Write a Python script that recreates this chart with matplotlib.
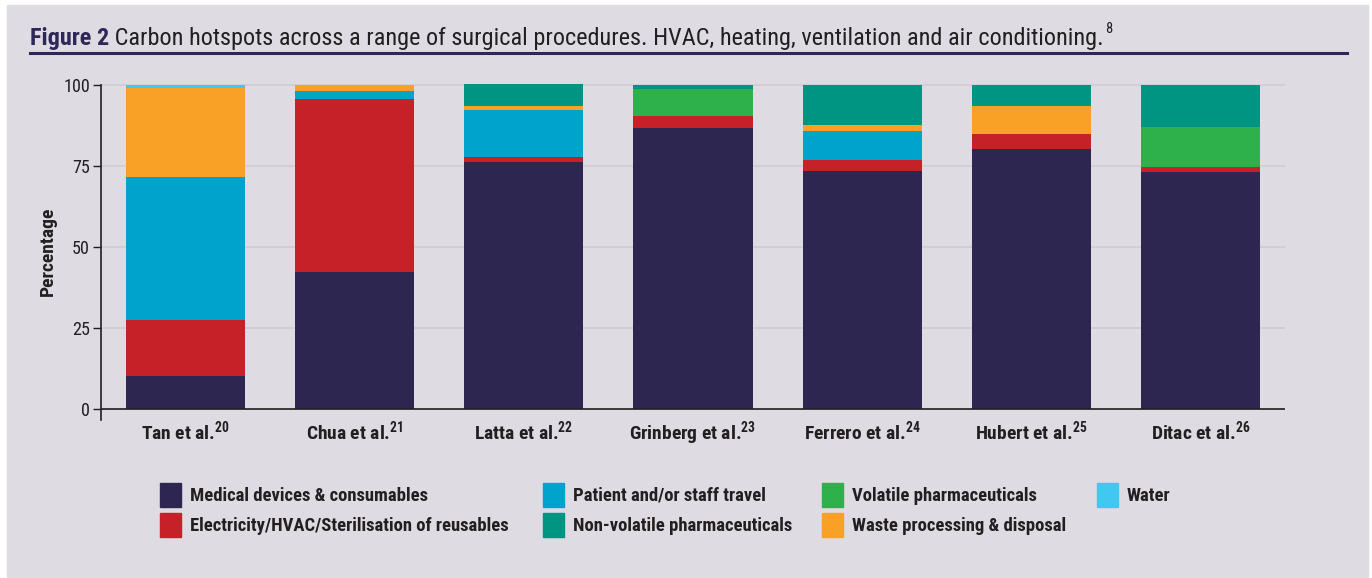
import matplotlib
matplotlib.use("Agg")
import matplotlib.pyplot as plt
from matplotlib import font_manager
import numpy as np
from matplotlib.patches import Rectangle
from matplotlib.lines import Line2D


def pick_font():
    entries = font_manager.fontManager.ttflist
    names = {f.name for f in entries}
    for want in ["Liberation Sans Narrow", "Roboto Condensed", "Open Sans Condensed",
                 "Noto Sans Condensed", "DejaVu Sans Condensed"]:
        if want in names:
            return want, "normal"
    for f in entries:
        if f.name == "DejaVu Sans" and f.stretch in ("condensed", "semi-condensed", 600, 700):
            return "DejaVu Sans", f.stretch
    for want in ["Roboto", "Liberation Sans", "Inter"]:
        if want in names:
            return want, "normal"
    return "DejaVu Sans", "normal"


FONT, STRETCH = pick_font()
plt.rcParams['font.family'] = [FONT, 'DejaVu Sans']
plt.rcParams['font.stretch'] = STRETCH
plt.rcParams['mathtext.fontset'] = 'custom'
plt.rcParams['mathtext.rm'] = FONT
plt.rcParams['mathtext.bf'] = FONT + ':bold'
plt.rcParams['mathtext.default'] = 'bf'

studies = ["Tan et al.$^{20}$", "Chua et al.$^{21}$", "Latta et al.$^{22}$",
           "Grinberg et al.$^{23}$", "Ferrero et al.$^{24}$", "Hubert et al.$^{25}$",
           "Ditac et al.$^{26}$"]

# stacked from bottom to top
medical     = [10.2, 42.3, 76.2, 86.7, 73.5, 80.2, 73.1]
electricity = [17.3, 53.4, 1.7, 3.6, 3.4, 4.7, 1.7]
travel      = [44.1, 2.4, 14.4, 0.0, 9.0, 0.0, 0.0]
volatile    = [0.0, 0.0, 0.0, 8.4, 0.0, 0.0, 12.2]
waste       = [27.4, 1.9, 1.2, 0.0, 1.8, 8.6, 0.0]
nonvolatile = [0.0, 0.0, 6.8, 1.3, 12.3, 6.5, 13.0]
water       = [1.0, 0.0, 0.0, 0.0, 0.0, 0.0, 0.0]

series = [
    ("Medical devices & consumables", medical, "#2C2650"),
    ("Electricity/HVAC/Sterilisation of reusables", electricity, "#C62029"),
    ("Patient and/or staff travel", travel, "#00A3CC"),
    ("Volatile pharmaceuticals", volatile, "#2EB04A"),
    ("Waste processing & disposal", waste, "#F8A126"),
    ("Non-volatile pharmaceuticals", nonvolatile, "#009483"),
    ("Water", water, "#41C8F0"),
]
colors = {name: c for name, _, c in series}

W, H = 1372, 578
bg = "#DEDBE2"
navy = "#2E2859"
ink = "#231F20"

fig = plt.figure(figsize=(W / 100, H / 100), dpi=100, facecolor="white")
renderer = fig.canvas.get_renderer()


def text_width(s, size, weight="normal"):
    t = fig.text(0, 0, s, fontsize=size, fontweight=weight)
    w = t.get_window_extent(renderer).width
    t.remove()
    return w


def fit(strings, target, size, weight="normal", floor=8):
    widest = max(text_width(s, size, weight) for s in strings)
    return max(floor, min(size, size * target / widest))


fig.add_artist(Rectangle((7 / W, 1 - 577 / H), 1361 / W, 572 / H,
                         transform=fig.transFigure, color=bg, zorder=-10))

# title and rule
title_rest = " Carbon hotspots across a range of surgical procedures. HVAC, heating, ventilation and air conditioning."
ts = fit(["Figure 2" + title_rest], 1068, 17.5, "normal")
t1 = fig.text(30 / W, 1 - 45 / H, "Figure 2", fontsize=ts, fontweight="bold", color=navy)
w1 = t1.get_window_extent(renderer).width
t2 = fig.text((30 + w1) / W, 1 - 45 / H, title_rest, fontsize=ts, color=ink)
w2 = t2.get_window_extent(renderer).width
fig.text((31 + w1 + w2) / W, 1 - 33 / H, "8", fontsize=ts * 0.6, color=ink)
fig.add_artist(Line2D([30 / W, 1347 / W], [1 - 53 / H, 1 - 53 / H],
                      transform=fig.transFigure, color=navy, lw=2.2))

ax = fig.add_axes([101 / W, 1 - 420.3 / H, 1184 / W, 338.5 / H])
ax.set_facecolor("none")

x = np.arange(len(studies))
bottom = np.zeros(len(studies))
for name, vals, c in series:
    ax.bar(x, vals, bottom=bottom, width=0.705, color=c, zorder=3, clip_on=False)
    bottom += np.array(vals)

ax.set_xlim(-0.5, 6.5)
ax.set_ylim(-3.5, 101)
ax.set_yticks([0, 25, 50, 75, 100])
ax.yaxis.grid(True, color="#CFCCD5", lw=1.2, zorder=0)
ax.axhline(0, color=ink, lw=1.2, zorder=4)
for s in ["top", "right", "bottom"]:
    ax.spines[s].set_visible(False)
ax.spines["left"].set_bounds(-3.5, 100)
ax.spines["left"].set_color(ink)
ax.spines["left"].set_linewidth(1.2)

tick_size = fit(["100"], 27, 14, floor=12)
xl_size = fit(["Grinberg et al.$^{23}$"], 136, 14, "bold", floor=10)
ax.tick_params(axis="y", length=6, width=1.0, color=ink, labelsize=tick_size,
               labelcolor=ink, pad=2)
ax.tick_params(axis="x", length=0, labelsize=xl_size, labelcolor=ink, pad=-1)
ax.set_xticks(x)
ax.set_xticklabels(studies, fontweight="bold")
ax.set_ylabel("Percentage", fontsize=xl_size, fontweight="bold", color=ink)
ax.yaxis.set_label_coords((57 - 101) / 1184, 0.5)

# legend, laid out by hand
legend_rows = [
    [("Medical devices & consumables", 160), ("Patient and/or staff travel", 543),
     ("Volatile pharmaceuticals", 822), ("Water", 1097)],
    [("Electricity/HVAC/Sterilisation of reusables", 160), ("Non-volatile pharmaceuticals", 543),
     ("Waste processing & disposal", 822)],
]
leg_size = min(fit(["Electricity/HVAC/Sterilisation of reusables"], 320, 14.5, "bold"),
               fit(["Non-volatile pharmaceuticals", "Waste processing & disposal"], 226, 14.5, "bold"))
row_y = [495, 525]
for row, yc in zip(legend_rows, row_y):
    for name, xp in row:
        fig.add_artist(Rectangle((xp / W, 1 - (yc + 12) / H), 21 / W, 24 / H,
                                 transform=fig.transFigure, color=colors[name]))
        fig.text((xp + 30) / W, 1 - (yc + 1) / H, name, fontsize=leg_size, fontweight="bold",
                 color=ink, va="center")

fig.savefig("out.png", dpi=100, facecolor="white")
